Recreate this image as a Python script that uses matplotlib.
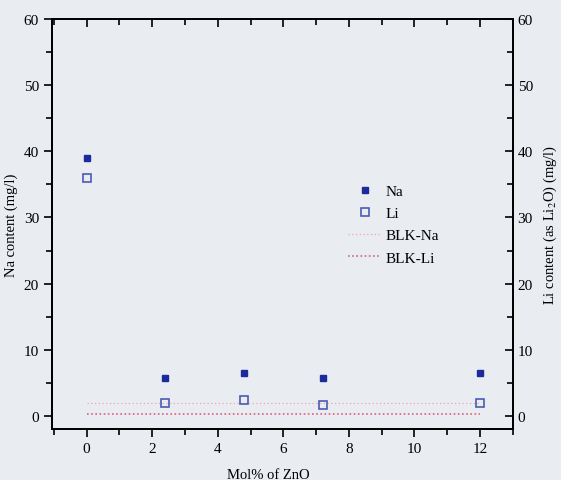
import matplotlib
matplotlib.use("Agg")
import matplotlib.pyplot as plt
from matplotlib.ticker import MultipleLocator

plt.rcParams['font.family'] = ['Liberation Serif', 'DejaVu Serif']
plt.rcParams['mathtext.fontset'] = 'stix'

# ZnO content (mol%) and measured leachate concentrations
zno = [0, 2.4, 4.8, 7.2, 12]
na_content = [39.0, 5.7, 6.5, 5.7, 6.4]
li_content = [36.0, 1.9, 2.4, 1.7, 1.9]
blank_x = [0, 12]
blk_na = [2.0, 2.0]
blk_li = [0.2, 0.2]

bg = '#e9ecf1'
fig = plt.figure(figsize=(5.61, 4.81), dpi=100, facecolor=bg)
ax = fig.add_axes([0.093, 0.106, 0.821, 0.852], facecolor=bg)
ax2 = ax.twinx()

h_na, = ax.plot(zno, na_content, linestyle='none', marker='s', ms=5,
                mfc='#1c2a9c', mec='#1c2a9c', label='Na')
h_blkna, = ax.plot(blank_x, blk_na, linestyle=(0, (1, 2)), lw=0.9,
                   color='#eaa8b4', label='BLK-Na')
h_li, = ax2.plot(zno, li_content, linestyle='none', marker='s', ms=6,
                 mfc='none', mec='#4b5bb5', mew=1.2, label='Li')
h_blkli, = ax2.plot(blank_x, blk_li, linestyle=(0, (1, 1.5)), lw=1.2,
                    color='#e0607a', label='BLK-Li')

for a in (ax, ax2):
    a.set_xlim(-1.05, 13.0)
    a.set_ylim(-2, 60)
    a.yaxis.set_major_locator(MultipleLocator(10))
    a.yaxis.set_minor_locator(MultipleLocator(5))
    for s in a.spines.values():
        s.set_linewidth(1.3)

ax.xaxis.set_major_locator(MultipleLocator(2))
ax.xaxis.set_minor_locator(MultipleLocator(1))
ax.tick_params(axis='x', which='both', direction='out', top=True,
               labelsize=11, width=1.2)
ax.tick_params(axis='x', which='major', length=6)
ax.tick_params(axis='x', which='minor', length=4)
ax.tick_params(axis='y', which='both', direction='out', labelsize=11, width=1.2)
ax.tick_params(axis='y', which='major', length=6)
ax.tick_params(axis='y', which='minor', length=4)
ax2.tick_params(axis='y', which='both', direction='in', labelsize=11, width=1.2)
ax2.tick_params(axis='y', which='major', length=6)
ax2.tick_params(axis='y', which='minor', length=4)

# top ticks point inward
for t in ax.xaxis.get_major_ticks() + ax.xaxis.get_minor_ticks():
    t.tick2line.set_marker(matplotlib.lines.TICKDOWN)

ax.set_xlabel('Mol% of ZnO', fontsize=10.5, labelpad=9)
ax.xaxis.set_label_coords(0.47, -0.095)
ax.set_ylabel('Na content (mg/l)', fontsize=10.5, labelpad=4)
ax2.set_ylabel('Li content (as Li$_2$O) (mg/l)', fontsize=10.5, labelpad=6)

ax.legend(handles=[h_na, h_li, h_blkna, h_blkli], loc='upper left',
          bbox_to_anchor=(0.612, 0.63), frameon=False, fontsize=11,
          handlelength=2.2, handletextpad=0.3, labelspacing=0.55,
          markerfirst=True)

fig.savefig('out.png', dpi=100, facecolor=bg)
